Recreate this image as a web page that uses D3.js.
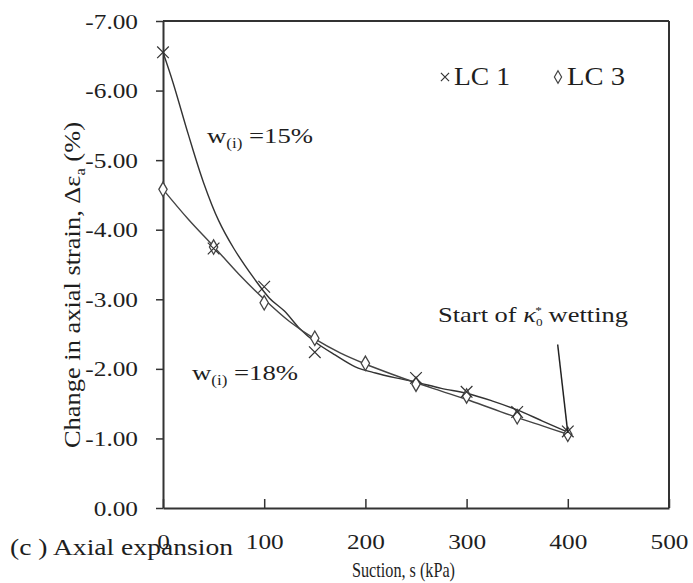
<!DOCTYPE html>
<html><head><meta charset="utf-8">
<script src="https://cdn.jsdelivr.net/npm/d3@7"></script>
<style>html,body{margin:0;padding:0;background:#fff;} svg{display:block;}</style>
</head><body>
<svg id="chart" width="693" height="583"></svg>
<script>
// ---- data ----
const suction = [0, 50, 100, 150, 200, 250, 300, 350, 400];
const lc1Strain = [-6.55, -3.73, -3.18, -2.24, null, -1.87, -1.67, -1.38, -1.10];
const lc3Strain = [-4.58, -3.75, -2.95, -2.44, -2.08, -1.78, -1.61, -1.31, -1.06];
// smooth curves drawn in the figure
const lc1CurveS = [0, 10, 25, 40, 55, 70, 90, 105, 120, 135, 150, 170, 190, 210, 230, 250, 275, 300, 325, 350, 375, 400];
const lc1CurveStrain = [-6.55, -6.11, -5.37, -4.68, -4.13, -3.73, -3.30, -3.02, -2.83, -2.58, -2.39, -2.20, -2.03, -1.94, -1.87, -1.81, -1.72, -1.65, -1.54, -1.41, -1.25, -1.09];
const lc3CurveS = [0, 25, 50, 75, 100, 125, 150, 175, 200, 225, 250, 275, 300, 325, 350, 375, 400];
const lc3CurveStrain = [-4.58, -4.15, -3.76, -3.36, -3.00, -2.68, -2.43, -2.23, -2.07, -1.93, -1.80, -1.68, -1.56, -1.43, -1.30, -1.18, -1.06];
const xTicks = [0, 100, 200, 300, 400, 500];
const xTickLabels = ["0", "100", "200", "300", "400", "500"];
const yTicks = [0, -1, -2, -3, -4, -5, -6, -7];
const yTickLabels = ["0.00", "-1.00", "-2.00", "-3.00", "-4.00", "-5.00", "-6.00", "-7.00"];
const seriesNames = ["LC 1", "LC 3"];
const arrowFrom = [390, -2.35];
const arrowTo = [400, -1.08];

// ---- drawing ----
const svg = d3.select("#chart");
const FONT = "'Liberation Serif','Times New Roman',serif";
const INK = "#1e1e1e";
const x = d3.scaleLinear().domain([0, 500]).range([163, 669]);
const y = d3.scaleLinear().domain([0, -7]).range([508, 21]);

function stretch(sel, f) {
  sel.each(function () {
    const w = this.getComputedTextLength();
    d3.select(this).attr("textLength", w * f).attr("lengthAdjust", "spacingAndGlyphs");
  });
}
function fit(sel, w) {
  sel.attr("textLength", w).attr("lengthAdjust", "spacingAndGlyphs");
}

// frame (top + right)
svg.append("line").attr("x1", x(0)).attr("x2", x(500)).attr("y1", y(-7)).attr("y2", y(-7))
  .attr("stroke", "#333").attr("stroke-width", 2);
svg.append("line").attr("x1", x(500)).attr("x2", x(500)).attr("y1", y(-7)).attr("y2", y(0))
  .attr("stroke", "#333").attr("stroke-width", 2);

// y axis
const gy = svg.append("g").attr("transform", `translate(${x(0)},0)`)
  .call(d3.axisLeft(y).tickValues(yTicks).tickFormat((d, i) => yTickLabels[i]).tickSizeInner(7).tickSizeOuter(0).tickPadding(18));
gy.select(".domain").attr("stroke", "#333").attr("stroke-width", 2);
gy.selectAll(".tick line").attr("stroke", "#333").attr("stroke-width", 1.5);
gy.selectAll(".tick text").attr("font-family", FONT).attr("font-size", 22).attr("fill", INK);
stretch(gy.selectAll(".tick text"), 1.15);

// x axis (ticks inward)
const gx = svg.append("g").attr("transform", `translate(0,${y(0)})`)
  .call(d3.axisBottom(x).tickValues(xTicks).tickFormat((d, i) => xTickLabels[i]).tickSizeInner(-9).tickSizeOuter(0));
gx.select(".domain").attr("stroke", "#333").attr("stroke-width", 2);
gx.selectAll(".tick line").attr("stroke", "#333").attr("stroke-width", 1.5);
gx.selectAll(".tick text").attr("y", 41).attr("dy", null)
  .attr("font-family", FONT).attr("font-size", 22).attr("fill", INK);
stretch(gx.selectAll(".tick text"), 1.15);

// curves
const line = d3.line().x(d => x(d[0])).y(d => y(d[1])).curve(d3.curveCatmullRom.alpha(0.5));
svg.append("path").datum(d3.zip(lc1CurveS, lc1CurveStrain)).attr("d", line)
  .attr("fill", "none").attr("stroke", "#333").attr("stroke-width", 1.4);
svg.append("path").datum(d3.zip(lc3CurveS, lc3CurveStrain)).attr("d", line)
  .attr("fill", "none").attr("stroke", "#444").attr("stroke-width", 1.4);

// markers
const cross = d3.symbol().type(d3.symbolX).size(90);
const diamond = d3.symbol().type(d3.symbolDiamond).size(60);
const lc1Pts = d3.zip(suction, lc1Strain).filter(d => d[1] !== null);
const lc3Pts = d3.zip(suction, lc3Strain);
svg.append("g").selectAll("path").data(lc3Pts).join("path")
  .attr("d", diamond).attr("transform", d => `translate(${x(d[0])},${y(d[1])})`)
  .attr("fill", "white").attr("stroke", "#444").attr("stroke-width", 1.3);
svg.append("g").selectAll("path").data(lc1Pts).join("path")
  .attr("d", cross).attr("transform", d => `translate(${x(d[0])},${y(d[1])})`)
  .attr("fill", "none").attr("stroke", "#333").attr("stroke-width", 1.2);

// arrow annotation
svg.append("line").attr("x1", x(arrowFrom[0])).attr("y1", y(arrowFrom[1]))
  .attr("x2", x(arrowTo[0])).attr("y2", y(arrowTo[1]))
  .attr("stroke", "#222").attr("stroke-width", 1.5);

// legend
const lg = svg.append("g");
lg.append("path").attr("d", d3.symbol().type(d3.symbolX).size(45)).attr("transform", "translate(445,77)")
  .attr("fill", "none").attr("stroke", "#333").attr("stroke-width", 1.2);
fit(lg.append("text").attr("x", 454).attr("y", 85).text(seriesNames[0])
  .attr("font-family", FONT).attr("font-size", 25).attr("fill", INK), 56);
lg.append("path").attr("d", d3.symbol().type(d3.symbolDiamond).size(45)).attr("transform", "translate(558,77)")
  .attr("fill", "white").attr("stroke", "#444").attr("stroke-width", 1.2);
fit(lg.append("text").attr("x", 567).attr("y", 85).text(seriesNames[1])
  .attr("font-family", FONT).attr("font-size", 25).attr("fill", INK), 58);

// annotations w(i)
function wLabel(px, py, val) {
  const t = svg.append("text").attr("x", px).attr("y", py)
    .attr("font-family", FONT).attr("font-size", 22).attr("fill", INK);
  t.append("tspan").text("w");
  t.append("tspan").attr("font-size", 14).attr("dy", 5).text("(i)");
  t.append("tspan").attr("dy", -5).text(" =" + val);
  fit(t, 106);
  return t;
}
wLabel(207, 143, "15%");
wLabel(192, 380, "18%");

// start of wetting label
const st = svg.append("text").attr("x", 438).attr("y", 322)
  .attr("font-family", FONT).attr("font-size", 22).attr("fill", INK);
st.append("tspan").text("Start of ");
st.append("tspan").attr("font-style", "italic").text("κ");
st.append("tspan").attr("font-size", 11).attr("dy", 4).text("0");
st.append("tspan").attr("font-size", 11).attr("dx", -6).attr("dy", -12).text("*");
st.append("tspan").attr("dy", 8).text(" wetting");
fit(st, 190);

// axis titles
const yt = svg.append("text").attr("transform", "translate(80,285) rotate(-90)")
  .attr("text-anchor", "middle").attr("font-family", FONT).attr("font-size", 24).attr("fill", INK);
yt.append("tspan").text("Change in axial strain, Δε");
yt.append("tspan").attr("font-size", 15).attr("dy", 5).text("a");
yt.append("tspan").attr("dy", -5).text(" (%)");
fit(yt, 326);

fit(svg.append("text").attr("x", 352).attr("y", 577).text("Suction, s (kPa)")
  .attr("font-family", FONT).attr("font-size", 21).attr("fill", INK), 103);

fit(svg.append("text").attr("x", 10).attr("y", 555).text("(c ) Axial expansion")
  .attr("font-family", FONT).attr("font-size", 24).attr("fill", INK), 223);
</script>
</body></html>
